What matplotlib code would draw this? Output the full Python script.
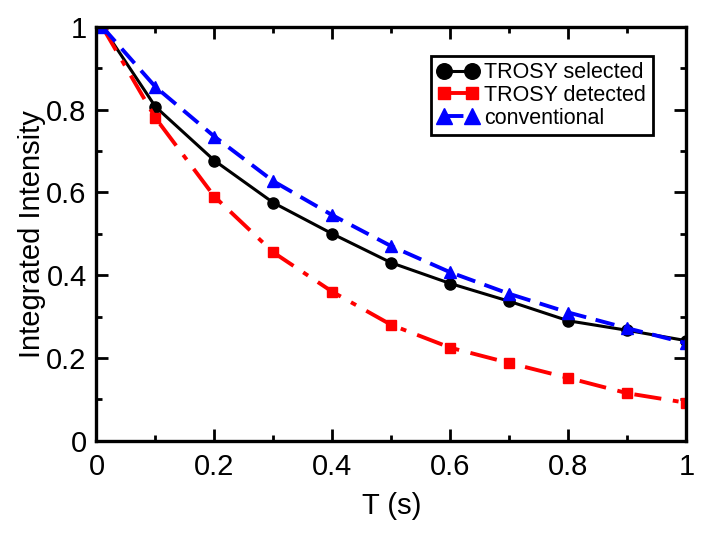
import numpy as np
import matplotlib.pyplot as plt
from matplotlib.ticker import MultipleLocator

plt.rcParams['font.family'] = ['Liberation Sans', 'DejaVu Sans']

# data
t = [0.01, 0.1, 0.2, 0.3, 0.4, 0.5, 0.6, 0.7, 0.8, 0.9, 1.0]
trosy_selected = [1.0, 0.807, 0.677, 0.575, 0.50, 0.43, 0.38, 0.337, 0.29, 0.267, 0.242]
trosy_detected = [1.0, 0.78, 0.59, 0.455, 0.36, 0.28, 0.225, 0.188, 0.152, 0.115, 0.092]
conventional = [1.0, 0.855, 0.735, 0.627, 0.545, 0.47, 0.407, 0.355, 0.31, 0.272, 0.236]

fig = plt.figure(figsize=(7.04, 5.37), dpi=100)
ax = fig.add_axes([0.137, 0.179, 0.838, 0.771])

ax.plot(t, trosy_selected, color='black', lw=2.2, marker='o', ms=8,
        label='TROSY selected')
ax.plot(t, trosy_detected, color='red', lw=2.8, ls=(0, (7, 3, 1.5, 3)),
        marker='s', ms=6.5, label='TROSY detected')
ax.plot(t, conventional, color='blue', lw=2.8, ls=(0, (5, 2.5)),
        marker='^', ms=8.5, label='conventional')

ax.set_xlim(0, 1)
ax.set_ylim(0, 1)
ax.xaxis.set_major_locator(MultipleLocator(0.2))
ax.xaxis.set_minor_locator(MultipleLocator(0.1))
ax.yaxis.set_major_locator(MultipleLocator(0.2))
ax.yaxis.set_minor_locator(MultipleLocator(0.1))
ax.xaxis.set_major_formatter(plt.FuncFormatter(lambda v, p: '%g' % round(v, 2)))
ax.yaxis.set_major_formatter(plt.FuncFormatter(lambda v, p: '%g' % round(v, 2)))

ax.tick_params(which='both', direction='in', top=True, right=True,
               width=2, labelsize=21)
ax.tick_params(axis='x', which='both', pad=9)
ax.tick_params(axis='y', which='both', pad=7)
ax.tick_params(which='major', length=8.5)
ax.tick_params(which='minor', length=4.5)
for s in ax.spines.values():
    s.set_linewidth(2.4)

ax.set_xlabel('T (s)', fontsize=21, labelpad=8)
ax.set_ylabel('Integrated Intensity', fontsize=21, labelpad=0)

leg = ax.legend(loc='upper right', bbox_to_anchor=(0.943, 0.930),
                borderaxespad=0, fontsize=15.5,
                numpoints=2, handlelength=1.9, handletextpad=0.3,
                labelspacing=0.08, borderpad=0.3, fancybox=False,
                framealpha=1, edgecolor='black', markerscale=1.4)
leg.get_frame().set_linewidth(2)

plt.savefig('out.png', dpi=100)
